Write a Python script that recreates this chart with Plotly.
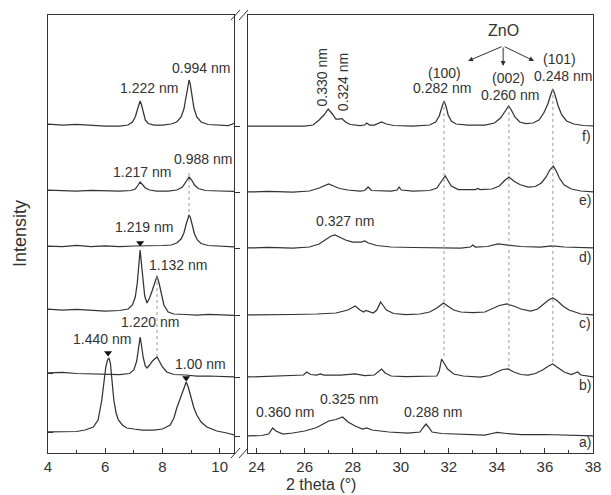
import plotly.graph_objects as go

FONT = "Liberation Sans, Arial, sans-serif"
INK = "#333333"

# ---------------- data ----------------
# (2theta, stacked intensity) pairs; left panel 4-10.5 deg
left_a = [(4.0,21),(4.5,21),(5.0,21.5),(5.3,23),(5.58,26),(5.75,33),(5.88,53),(5.96,72),(6.02,86),
          (6.08,93),(6.13,95),(6.18,90),(6.24,72),(6.3,53),(6.38,40),(6.46,33),(6.6,28),(6.75,25),
          (7.0,24),(7.3,23),(7.7,23),(8.0,24),(8.27,28),(8.4,35),(8.5,45),(8.62,54),(8.71,61),
          (8.78,68),(8.83,71),(8.9,66),(8.99,56),(9.1,45),(9.2,38),(9.35,31),(9.55,26),(9.9,22),
          (10.25,20),(10.5,18)]
left_b = [(4.0,80),(4.5,80.5),(5.0,79.5),(5.5,79),(6.0,79),(6.5,78.5),(6.85,79.5),(7.0,83),(7.1,92),
          (7.17,106),(7.22,116),(7.27,107),(7.33,95),(7.4,87),(7.46,85),(7.55,88),(7.65,92),(7.81,96),
          (7.9,91),(8.0,86),(8.15,81),(8.4,78.5),(8.8,78),(9.2,77),(9.6,77),(10.0,76.5),(10.5,76)]
left_c = [(4.0,144),(4.5,143),(5.0,143.5),(5.5,142.5),(6.0,142),(6.5,142.5),(6.8,144),(6.95,148),
          (7.05,156),(7.12,170),(7.17,188),(7.22,203),(7.27,188),(7.32,170),(7.38,157),(7.46,150),
          (7.55,155),(7.65,163),(7.74,172),(7.81,177),(7.88,170),(7.96,158),(8.05,148),(8.2,141),
          (8.4,139),(8.8,138.5),(9.2,138),(9.6,138.5),(10.0,138),(10.5,137.5)]
left_d = [(4.0,207),(4.5,206.5),(5.0,207.5),(5.5,206.5),(6.0,207),(6.5,206.5),(7.0,207),(7.5,207),
          (8.0,207.5),(8.3,208),(8.5,210),(8.65,214),(8.75,220),(8.83,229),(8.9,236),(8.93,238),
          (8.98,235),(9.05,227),(9.12,219),(9.22,213),(9.35,209.5),(9.6,207.5),(10.0,206.5),(10.5,206)]
left_e = [(4.0,263),(4.5,262.5),(5.0,262),(5.5,262.5),(6.0,262),(6.5,262),(6.9,262.5),(7.05,264),
          (7.15,268),(7.22,271),(7.3,268.5),(7.4,265),(7.55,263),(7.8,262),(8.2,262),(8.5,263),
          (8.7,266),(8.83,271),(8.93,276),(9.02,273),(9.12,268),(9.25,264.5),(9.5,262.5),(10.0,262),
          (10.5,261.5)]
left_f = [(4.0,329),(4.5,328),(5.0,328.5),(5.5,327.5),(6.0,327),(6.5,327),(6.8,328),(6.95,331),
          (7.05,336),(7.12,343),(7.18,350),(7.22,352),(7.27,348),(7.33,340),(7.4,333),(7.5,329.5),
          (7.7,328),(8.0,328),(8.3,329),(8.5,331),(8.65,336),(8.75,344),(8.83,356),(8.9,369),
          (8.93,373),(8.97,369),(9.03,357),(9.1,345),(9.2,336),(9.35,331),(9.6,328.5),(10.0,328),
          (10.3,327.5),(10.45,329),(10.5,330)]

# right panel 23.6-38 deg
right_a = [(23.64,17),(24.2,17.5),(24.5,19),(24.67,25),(24.8,22),(25.1,19),(25.5,20),(26.0,22),
           (26.5,25.5),(27.0,32),(27.3,33.5),(27.58,36),(27.8,31),(28.1,27),(28.4,24),(28.58,25),
           (28.8,23),(29.5,21),(30.3,20),(30.8,21),(30.95,26),(31.05,29),(31.15,26),(31.3,21),
           (31.7,19.5),(32.5,18.5),(33.5,18),(33.8,19.5),(34.0,20.5),(34.4,19.5),(35.0,18.5),
           (36.0,18.5),(37.0,18),(38.0,17)]
right_b = [(23.64,76),(24.5,76.5),(25.5,77),(25.95,78),(26.08,81),(26.25,78.5),(26.5,78),(26.65,79),
           (26.8,78),(27.5,78),(28.1,79),(28.5,77.5),(28.9,78),(29.1,82),(29.2,84),(29.35,80),
           (29.6,77),(30.2,76.5),(31.0,76.5),(31.5,77),(31.6,82),(31.7,94),(31.8,90),(31.95,84),
           (32.2,79),(32.6,77),(33.3,76),(33.7,77.5),(34.0,81),(34.25,83.5),(34.47,84),(34.7,81),
           (35.0,78.5),(35.3,78),(35.6,79.5),(35.9,83),(36.15,87),(36.33,89),(36.5,86),(36.8,81),
           (37.1,78.5),(37.25,79.5),(37.36,81),(37.5,78),(37.8,76.5),(38.0,76)]
right_c = [(23.64,138),(24.5,138),(25.5,138.5),(26.5,139),(27.3,140),(27.8,143),(28.1,147),(28.3,143),
           (28.45,141),(28.55,142.5),(28.7,141),(28.85,140),(29.0,143),(29.1,149),(29.16,151),
           (29.25,148),(29.4,143),(29.7,139.5),(30.2,138.5),(30.8,139),(31.2,141),(31.5,145),
           (31.78,150),(31.95,147),(32.2,143),(32.5,141),(33.0,140.5),(33.5,141),(33.8,144),
           (34.1,147.5),(34.42,149),(34.7,147),(35.0,144),(35.4,142),(35.7,144),(35.95,149),
           (36.15,153),(36.33,155),(36.5,152.5),(36.75,147),(37.0,143),(37.5,139),(38.0,138)]
right_d = [(23.64,205),(24.5,205.5),(25.5,205),(26.2,206),(26.6,209),(26.9,214),(27.1,217),
           (27.26,218),(27.45,216),(27.7,213),(28.0,211),(28.35,211),(28.5,212),(28.65,210),
           (29.0,207.5),(29.6,206),(30.5,205.5),(31.5,205.5),(32.5,205),(32.9,206),(33.0,208),
           (33.1,206),(33.6,206.5),(34.05,209),(34.4,208),(35.0,206.5),(35.8,206),(36.3,207),
           (36.8,206),(37.5,205.5),(38.0,205)]
right_e = [(23.64,261),(24.5,261.5),(25.5,261),(26.2,262),(26.6,265),(26.85,267.5),(27.0,269),
           (27.2,267),(27.45,264.5),(27.8,263),(28.3,262),(28.5,262.5),(28.64,266),(28.78,262.5),
           (29.2,262.5),(29.6,262),(29.85,263),(29.93,266),(30.02,263),(30.5,262),(31.2,262.5),
           (31.5,265),(31.7,272),(31.85,277),(31.95,273),(32.1,267),(32.4,263.5),(32.9,263),
           (33.1,263.5),(33.2,264.5),(33.3,263.5),(33.8,264),(34.1,267),(34.3,272),(34.5,276),
           (34.7,272),(34.95,268.5),(35.3,266),(35.6,266.5),(35.85,270),(36.05,276),(36.2,283),
           (36.35,287),(36.47,282),(36.6,275),(36.8,268),(37.1,264),(37.5,262),(38.0,261)]
right_f = [(23.64,327),(24.5,327),(25.5,326.5),(26.0,327),(26.35,328),(26.6,333),(26.8,338),
           (26.98,344),(27.15,339),(27.3,334),(27.45,334),(27.54,334.5),(27.7,331),(27.9,328.5),
           (28.3,327.5),(28.5,328),(28.58,330),(28.7,328),(28.9,328),(29.05,329.5),(29.2,331),
           (29.4,329),(29.7,327.5),(30.5,327),(31.2,328),(31.45,331),(31.6,337),(31.7,345),
           (31.8,352),(31.88,347),(31.97,338),(32.1,332),(32.3,329),(32.8,328),(33.5,328),
           (33.9,330),(34.15,335),(34.35,342),(34.49,347),(34.6,343),(34.75,336),(34.95,331),
           (35.2,329.5),(35.5,330),(35.75,333),(35.95,340),(36.12,349),(36.25,359),(36.33,364),
           (36.42,358),(36.55,347),(36.7,338),(36.9,332),(37.2,329),(37.6,327.5),(38.0,327)]

left_curves = [left_a, left_b, left_c, left_d, left_e, left_f]
right_curves = [right_a, right_b, right_c, right_d, right_e, right_f]
curve_labels = ["a)", "b)", "c)", "d)", "e)", "f)"]
curve_label_y = [11, 68, 130, 196, 253, 317]
left_baselines = [21, 80, 144, 207, 263, 329]
right_baselines = [17, 76, 138, 205, 261, 327]

# dotted guide lines (x, y_top, y_bottom)
left_guides = [(7.81, 177, 96), (8.93, 280, 238)]
right_guides = [(31.8, 352, 94), (34.5, 347, 84), (36.33, 364, 89)]

# triangle markers on peaks
marker_x = [6.1, 8.83, 7.22]
marker_y = [100, 75, 210]

# peak labels (text, x, y)
left_texts = [("0.994 nm", 9.35, 385), ("1.222 nm", 7.53, 365), ("0.988 nm", 9.42, 294),
              ("1.217 nm", 7.3, 281), ("1.219 nm", 7.36, 226), ("1.132 nm", 8.53, 188),
              ("1.220 nm", 7.55, 131), ("1.440 nm", 5.88, 114), ("1.00 nm", 9.33, 89)]
right_texts = [("(100)", 31.8, 380), ("0.282 nm", 31.7, 365), ("(002)", 34.5, 375),
               ("0.260 nm", 34.55, 358), ("(101)", 36.6, 394), ("0.248 nm", 36.75, 377),
               ("0.327 nm", 27.66, 232), ("0.360 nm", 25.2, 41), ("0.325 nm", 27.84, 54),
               ("0.288 nm", 31.35, 41)]
rotated_texts = [("0.330 nm", 26.74, 376), ("0.324 nm", 27.6, 371)]

YMAX = 438
LEFT_RANGE = [4, 10.5]
RIGHT_RANGE = [23.64, 38]

# ---------------- figure ----------------
fig = go.Figure()
line_style = dict(color=INK, width=1.25)

for c in left_curves:
    fig.add_trace(go.Scatter(x=[p[0] for p in c], y=[p[1] for p in c], mode="lines",
                             line=line_style, xaxis="x", yaxis="y", hoverinfo="skip"))
for c in right_curves:
    fig.add_trace(go.Scatter(x=[p[0] for p in c], y=[p[1] for p in c], mode="lines",
                             line=line_style, xaxis="x2", yaxis="y2", hoverinfo="skip"))

guide_style = dict(color="#9a9a9a", width=1, dash="dot")
for gx, gt, gb in left_guides:
    fig.add_trace(go.Scatter(x=[gx, gx], y=[gt, gb], mode="lines", line=guide_style,
                             xaxis="x", yaxis="y", hoverinfo="skip"))
for gx, gt, gb in right_guides:
    fig.add_trace(go.Scatter(x=[gx, gx], y=[gt, gb], mode="lines", line=guide_style,
                             xaxis="x2", yaxis="y2", hoverinfo="skip"))

fig.add_trace(go.Scatter(x=marker_x, y=marker_y, mode="markers",
                         marker=dict(symbol="triangle-down", size=7, color="#111"),
                         xaxis="x", yaxis="y", hoverinfo="skip"))
# invisible trace for the overlay tick axis
fig.add_trace(go.Scatter(x=[4], y=[0], mode="markers", marker=dict(opacity=0),
                         xaxis="x", yaxis="y3", hoverinfo="skip"))

annotations = []
lab_font = dict(family=FONT, size=14, color=INK)
for t, x, y in left_texts:
    annotations.append(dict(text=t, x=x, y=y, xref="x", yref="y", showarrow=False, font=lab_font))
for t, x, y in right_texts:
    annotations.append(dict(text=t, x=x, y=y, xref="x2", yref="y2", showarrow=False, font=lab_font))
for t, x, y in rotated_texts:
    annotations.append(dict(text=t, x=x, y=y, xref="x2", yref="y2", showarrow=False,
                            textangle=-90, font=lab_font))
for t, y in zip(curve_labels, curve_label_y):
    annotations.append(dict(text=t, x=38, y=y, xref="x2", yref="y2", xanchor="right",
                            showarrow=False, font=lab_font))
annotations.append(dict(text="ZnO", x=34.26, y=423, xref="x2", yref="y2", showarrow=False,
                        font=dict(family=FONT, size=16, color=INK)))
# arrows from ZnO to the three reflections
for hx, hy in [(32.8, 392), (34.26, 387), (35.55, 392)]:
    annotations.append(dict(text="", x=hx, y=hy, ax=34.26, ay=407, xref="x2", yref="y2",
                            axref="x2", ayref="y2", showarrow=True, arrowhead=2,
                            arrowsize=1, arrowwidth=1, arrowcolor=INK))

# plot area in window pixels: x 48..593, y 15..453 (page body has an 8px margin)
W, H = 545.0, 438.0
def px(xp, yp):
    return (xp - 48) / W, (453 - yp) / H

annotations.append(dict(text="2 theta (°)", x=0.5, y=px(0, 495)[1], xref="paper", yref="paper",
                        yanchor="bottom", showarrow=False,
                        font=dict(family=FONT, size=16, color=INK)))
annotations.append(dict(text="Intensity", x=px(20, 0)[0], y=0.5, xref="paper", yref="paper",
                        textangle=-90, xanchor="center", showarrow=False,
                        font=dict(family=FONT, size=18, color=INK)))

# axis-break marks
shapes = []
for yc in (15, 453):
    for x0 in (231, 239):
        a0 = px(x0, yc + 5)
        a1 = px(x0 + 9, yc - 5)
        shapes.append(dict(type="line", xref="paper", yref="paper", x0=a0[0], y0=a0[1],
                           x1=a1[0], y1=a1[1], line=dict(color=INK, width=1)))

tick_font = dict(family=FONT, size=15, color=INK)
common_x = dict(showline=True, linecolor=INK, linewidth=1, mirror=True, ticks="inside",
                ticklen=5, tickcolor=INK, showgrid=False, zeroline=False, tickfont=tick_font)

fig.update_layout(
    width=603, height=487,
    margin=dict(l=40, r=18, t=7, b=42),
    paper_bgcolor="white", plot_bgcolor="white",
    showlegend=False,
    xaxis=dict(domain=[0, 186 / W], range=LEFT_RANGE, tickvals=[4, 6, 8, 10],
               minor=dict(tickvals=[5, 7, 9], ticks="inside", ticklen=3, tickcolor=INK),
               anchor="y", **common_x),
    xaxis2=dict(domain=[200 / W, 1], range=RIGHT_RANGE, tickvals=[24, 26, 28, 30, 32, 34, 36, 38],
                minor=dict(tickvals=[25, 27, 29, 31, 33, 35, 37], ticks="inside", ticklen=3,
                           tickcolor=INK),
                anchor="y2", **common_x),
    yaxis=dict(range=[0, YMAX], tickvals=left_baselines, ticks="inside", ticklen=5, tickcolor=INK,
               showticklabels=False, showline=True, linecolor=INK, mirror=True, showgrid=False,
               zeroline=False, anchor="x"),
    yaxis2=dict(range=[0, YMAX], showticklabels=False, ticks="", showline=True, linecolor=INK,
                mirror=True, showgrid=False, zeroline=False, anchor="x2"),
    yaxis3=dict(range=[0, YMAX], overlaying="y", side="right", anchor="x", tickvals=right_baselines,
                ticks="outside", ticklen=5, tickcolor=INK, showticklabels=False, showline=False,
                showgrid=False, zeroline=False),
    annotations=annotations,
    shapes=shapes,
)

fig.write_html("out.html")
